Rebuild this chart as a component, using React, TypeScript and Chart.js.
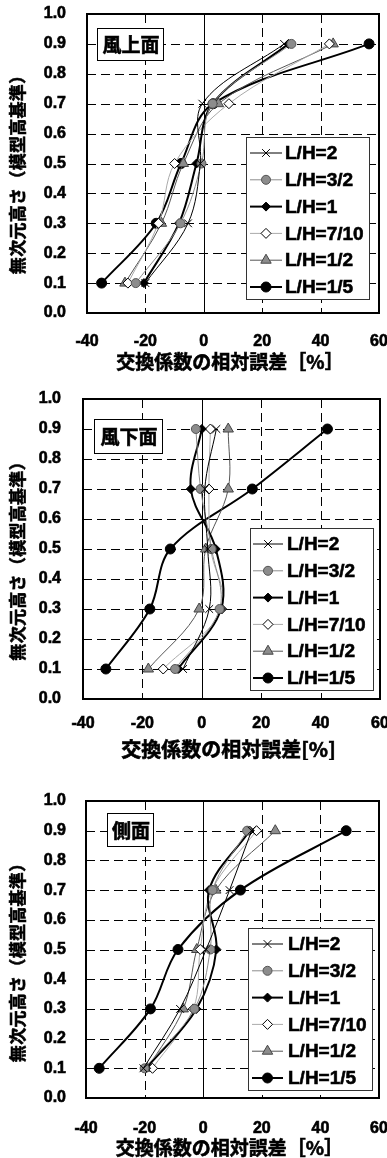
import React, { useEffect, useRef } from 'react';
import { Chart, registerables } from 'chart.js';

Chart.register(...registerables);

// ---- data ----
const heights = [0.1, 0.3, 0.5, 0.7, 0.9];
const seriesLabels = ['L/H=2', 'L/H=3/2', 'L/H=1', 'L/H=7/10', 'L/H=1/2', 'L/H=1/5'];
const xTickValues = [-40, -20, 0, 20, 40, 60];
const yTickValues = [0, 0.1, 0.2, 0.3, 0.4, 0.5, 0.6, 0.7, 0.8, 0.9, 1.0];
const panelTitles = ['風上面', '風下面', '側面'];
const yAxisTitle = '無次元高さ（模型高基準）';
const xAxisTitles = ['交換係数の相対誤差［%］', '交換係数の相対誤差[%]', '交換係数の相対誤差［%］'];

// 風上面 (windward)
const windwardLH2 = [-20, -5.4, -1.2, -0.5, 27.5];
const windwardLH3_2 = [-23.3, -8, -0.8, 3, 30];
const windwardLH1 = [-20.5, -8.5, -2.5, 3, 29];
const windwardLH7_10 = [-26, -15.5, -10, 8.6, 43];
const windwardLH1_2 = [-27, -14.5, -7, 5, 44.3];
const windwardLH1_5 = [-35, -16.3, -7.8, 3.2, 56.6];

// 風下面 (leeward)
const leewardLH2 = [-6.3, 2.5, 2, 1, 4.9];
const leewardLH3_2 = [-9, 6, 3.3, -0.4, -2];
const leewardLH1 = [-8, 6.5, 4.7, -3.7, 0];
const leewardLH7_10 = [-13, 6.7, 3, 2.4, 2.9];
const leewardLH1_2 = [-18, -0.9, 1.3, 8.9, 8.9];
const leewardLH1_5 = [-32.3, -17.5, -10.6, 17, 42.3];

// 側面 (side)
const sideLH2 = [-20.4, -7.9, 1, 9, 16.5];
const sideLH3_2 = [-20, -3, 2.4, 3.2, 15];
const sideLH1 = [-19.5, -2.3, 4.5, 2, 15.9];
const sideLH7_10 = [-17.3, -3.4, -1, 3, 18.2];
const sideLH1_2 = [-19, -6.8, -2.2, 4.3, 24.6];
const sideLH1_5 = [-35.5, -18, -8.6, 12.7, 48.8];

// ---- styles ----
type SStyle = { ps: string; r: number; bg: string; bc: string; bw: number; lc: string; lw: number };
const seriesStyles: SStyle[] = [
  { ps: 'crossRot', r: 5.5, bg: '#000', bc: '#000', bw: 1, lc: '#000', lw: 1 },
  { ps: 'circle', r: 4.5, bg: '#8c8c8c', bc: '#555', bw: 1, lc: '#8c8c8c', lw: 1 },
  { ps: 'rectRot', r: 4.5, bg: '#000', bc: '#000', bw: 1, lc: '#000', lw: 2 },
  { ps: 'rectRot', r: 5, bg: '#fff', bc: '#000', bw: 1, lc: '#aaa', lw: 1 },
  { ps: 'triangle', r: 6, bg: '#8c8c8c', bc: '#444', bw: 1, lc: '#555', lw: 1 },
  { ps: 'circle', r: 5, bg: '#000', bc: '#000', bw: 1, lc: '#000', lw: 2 },
];

const TICK_FONT = '"Liberation Sans", Arial, sans-serif';
const CJK_FONT = '"Noto Sans CJK JP", sans-serif';
const STROKE = 0.6;
const Y_TITLE_PITCH = 17.3;

type Layout = {
  height: number;
  top: number;
  padTop: number;
  padRight: number;
  yWidth: number;
  xHeight: number;
  xTickPad: number;
  yTickPad: number;
  xTitleY: number;
  xTitleSize: number;
  yTitleX: number;
  yTitleShift: number;
  titleBox: [number, number, number, number];
  legendBox: [number, number, number, number];
  legendTextX: number;
  legendLine: [number, number];
};

const layouts: Layout[] = [
  {
    height: 380, top: 0, padTop: 14, padRight: 8, yWidth: 87, xHeight: 67,
    xTickPad: 19, yTickPad: 21, xTitleY: 362, xTitleSize: 19, yTitleX: 18, yTitleShift: 7,
    titleBox: [97, 28, 163, 60], legendBox: [246, 137, 369, 299], legendTextX: 285, legendLine: [250, 282],
  },
  {
    height: 380, top: 380, padTop: 19, padRight: 7, yWidth: 83, xHeight: 61,
    xTickPad: 15, yTickPad: 22, xTitleY: 369, xTitleSize: 20, yTitleX: 18, yTitleShift: 8,
    titleBox: [94, 39, 162, 73], legendBox: [250, 148, 373, 310], legendTextX: 287, legendLine: [253, 283],
  },
  {
    height: 398, top: 760, padTop: 41, padRight: 8, yWidth: 86, xHeight: 60,
    xTickPad: 21, yTickPad: 20, xTitleY: 388, xTitleSize: 19, yTitleX: 18, yTitleShift: 9,
    titleBox: [107, 53, 153, 86], legendBox: [248, 168, 372, 330], legendTextX: 288, legendLine: [252, 283],
  },
];

function boldText(ctx: CanvasRenderingContext2D, t: string, x: number, y: number) {
  ctx.fillText(t, x, y);
  ctx.lineWidth = STROKE;
  ctx.strokeStyle = ctx.fillStyle as string;
  ctx.strokeText(t, x, y);
}

function drawMarker(ctx: CanvasRenderingContext2D, s: SStyle, x: number, y: number) {
  ctx.save();
  ctx.setLineDash([]);
  ctx.fillStyle = s.bg;
  ctx.strokeStyle = s.bc;
  ctx.lineWidth = s.bw;
  const r = s.r;
  ctx.beginPath();
  if (s.ps === 'circle') {
    ctx.arc(x, y, r, 0, Math.PI * 2);
    ctx.fill();
    ctx.stroke();
  } else if (s.ps === 'rectRot') {
    ctx.moveTo(x, y - r);
    ctx.lineTo(x + r, y);
    ctx.lineTo(x, y + r);
    ctx.lineTo(x - r, y);
    ctx.closePath();
    ctx.fill();
    ctx.stroke();
  } else if (s.ps === 'triangle') {
    ctx.moveTo(x, y - r);
    ctx.lineTo(x + r * 0.866, y + r * 0.5);
    ctx.lineTo(x - r * 0.866, y + r * 0.5);
    ctx.closePath();
    ctx.fill();
    ctx.stroke();
  } else if (s.ps === 'crossRot') {
    const d = r * Math.SQRT1_2;
    ctx.moveTo(x - d, y - d);
    ctx.lineTo(x + d, y + d);
    ctx.moveTo(x + d, y - d);
    ctx.lineTo(x - d, y + d);
    ctx.stroke();
  }
  ctx.restore();
}

function makePanelPlugin(idx: number) {
  const L = layouts[idx];
  return {
    id: 'panel' + idx,
    beforeDatasetsDraw(chart: any) {
      const { ctx, chartArea, scales } = chart;
      const { left, right, top, bottom } = chartArea;
      ctx.save();
      ctx.strokeStyle = '#000';
      ctx.lineWidth = 1;
      ctx.setLineDash([9, 5]);
      for (const v of yTickValues) {
        if (v <= 0 || v >= 1) continue;
        const py = Math.round(scales.y.getPixelForValue(v)) + 0.5;
        ctx.beginPath();
        ctx.moveTo(left, py);
        ctx.lineTo(right, py);
        ctx.stroke();
      }
      for (const v of xTickValues) {
        if (v === xTickValues[0] || v === xTickValues[xTickValues.length - 1]) continue;
        const px = Math.round(scales.x.getPixelForValue(v)) + 0.5;
        ctx.setLineDash(v === 0 ? [] : [9, 5]);
        ctx.beginPath();
        ctx.moveTo(px, top);
        ctx.lineTo(px, bottom);
        ctx.stroke();
      }
      ctx.restore();
    },
    afterDatasetsDraw(chart: any) {
      const { ctx, chartArea } = chart;
      const { left, right, top, bottom } = chartArea;
      ctx.save();
      ctx.setLineDash([]);
      // frame
      ctx.strokeStyle = '#000';
      ctx.lineWidth = 2;
      ctx.strokeRect(left, top, right - left, bottom - top);

      // title box
      const [tx0, ty0, tx1, ty1] = L.titleBox;
      ctx.fillStyle = '#fff';
      ctx.fillRect(tx0, ty0, tx1 - tx0, ty1 - ty0);
      ctx.strokeStyle = '#000';
      ctx.lineWidth = 1;
      ctx.strokeRect(tx0 + 0.5, ty0 + 0.5, tx1 - tx0, ty1 - ty0);
      ctx.fillStyle = '#000';
      ctx.font = `bold 19px ${CJK_FONT}`;
      ctx.textAlign = 'center';
      ctx.textBaseline = 'middle';
      boldText(ctx, panelTitles[idx], (tx0 + tx1) / 2 + 1, (ty0 + ty1) / 2 + 1);

      // legend box
      const [lx0, ly0, lx1, ly1] = L.legendBox;
      ctx.fillStyle = '#fff';
      ctx.fillRect(lx0, ly0, lx1 - lx0, ly1 - ly0);
      ctx.strokeStyle = '#333';
      ctx.lineWidth = 1;
      ctx.strokeRect(lx0 + 0.5, ly0 + 0.5, lx1 - lx0, ly1 - ly0);
      const step = (ly1 - ly0 - 28) / 5;
      seriesLabels.forEach((lab, i) => {
        const s = seriesStyles[i];
        const cy = ly0 + 16 + i * step;
        ctx.strokeStyle = s.lc;
        ctx.lineWidth = s.lw;
        ctx.beginPath();
        ctx.moveTo(L.legendLine[0], cy);
        ctx.lineTo(L.legendLine[1], cy);
        ctx.stroke();
        drawMarker(ctx, s, (L.legendLine[0] + L.legendLine[1]) / 2, cy);
        ctx.fillStyle = '#000';
        ctx.font = `bold 19px ${TICK_FONT}`;
        ctx.textAlign = 'left';
        ctx.textBaseline = 'middle';
        boldText(ctx, lab, L.legendTextX, cy + 1);
      });

      // axis titles
      ctx.fillStyle = '#000';
      ctx.font = `bold ${L.xTitleSize}px ${CJK_FONT}`;
      ctx.textAlign = 'center';
      ctx.textBaseline = 'middle';
      boldText(ctx, xAxisTitles[idx], (left + right) / 2 - 3, L.xTitleY);

      ctx.save();
      ctx.translate(L.yTitleX, (top + bottom) / 2 + L.yTitleShift);
      ctx.rotate(-Math.PI / 2);
      ctx.font = `bold 17px ${CJK_FONT}`;
      const chars = Array.from(yAxisTitle);
      chars.forEach((ch, i) => {
        const off = (i - (chars.length - 1) / 2) * Y_TITLE_PITCH;
        boldText(ctx, ch, off, 0);
      });
      ctx.restore();

      ctx.restore();
    },
  };
}

function makeConfig(idx: number, series: number[][]) {
  const L = layouts[idx];
  const tickFont = { family: TICK_FONT, size: 16, weight: 'bold' };
  return {
    type: 'scatter' as const,
    data: {
      datasets: series.map((vals, i) => {
        const s = seriesStyles[i];
        return {
          label: seriesLabels[i],
          data: heights.map((h, k) => ({ x: vals[k], y: h })),
          showLine: true,
          tension: 0.35,
          borderColor: s.lc,
          borderWidth: s.lw,
          pointStyle: s.ps,
          pointRadius: s.r,
          pointHoverRadius: s.r,
          pointBackgroundColor: s.bg,
          pointBorderColor: s.bc,
          pointBorderWidth: s.bw,
          fill: false,
        };
      }),
    },
    options: {
      animation: false,
      responsive: false,
      maintainAspectRatio: false,
      events: [],
      layout: { padding: { top: L.padTop, right: L.padRight, left: 0, bottom: 0 } },
      plugins: { legend: { display: false }, tooltip: { enabled: false }, title: { display: false } },
      scales: {
        x: {
          type: 'linear',
          min: xTickValues[0],
          max: xTickValues[xTickValues.length - 1],
          afterBuildTicks: (scale: any) => {
            scale.ticks = xTickValues.map((v) => ({ value: v }));
          },
          afterFit: (scale: any) => {
            scale.height = L.xHeight;
            scale.paddingLeft = 0;
            scale.paddingRight = 0;
          },
          grid: { display: false, drawTicks: false },
          border: { display: false },
          ticks: {
            padding: L.xTickPad,
            color: '#000',
            maxRotation: 0,
            autoSkip: false,
            textStrokeColor: '#000',
            textStrokeWidth: STROKE,
            font: tickFont,
            callback: (v: any) => String(v),
          },
        },
        y: {
          type: 'linear',
          min: 0,
          max: 1,
          afterBuildTicks: (scale: any) => {
            scale.ticks = yTickValues.map((v) => ({ value: v }));
          },
          afterFit: (scale: any) => {
            scale.width = L.yWidth;
            scale.paddingTop = 0;
            scale.paddingBottom = 0;
          },
          grid: { display: false, drawTicks: false },
          border: { display: false },
          ticks: {
            padding: L.yTickPad,
            color: '#000',
            autoSkip: false,
            textStrokeColor: '#000',
            textStrokeWidth: STROKE,
            font: tickFont,
            callback: (v: any) => Number(v).toFixed(1),
          },
        },
      },
    },
    plugins: [makePanelPlugin(idx)],
  };
}

const panelSeries: number[][][] = [
  [windwardLH2, windwardLH3_2, windwardLH1, windwardLH7_10, windwardLH1_2, windwardLH1_5],
  [leewardLH2, leewardLH3_2, leewardLH1, leewardLH7_10, leewardLH1_2, leewardLH1_5],
  [sideLH2, sideLH3_2, sideLH1, sideLH7_10, sideLH1_2, sideLH1_5],
];

function Panel({ idx }: { idx: number }) {
  const ref = useRef<HTMLCanvasElement | null>(null);
  const L = layouts[idx];
  useEffect(() => {
    if (!ref.current) return;
    const chart = new Chart(ref.current, makeConfig(idx, panelSeries[idx]) as any);
    return () => chart.destroy();
  }, [idx]);
  return (
    <canvas
      ref={ref}
      width={387}
      height={L.height}
      style={{ position: 'absolute', left: 0, top: L.top, width: 387, height: L.height, display: 'block' }}
    />
  );
}

export default function App() {
  return (
    <div style={{ position: 'absolute', left: 0, top: 0, width: 387, height: 1158, background: '#fff' }}>
      <Panel idx={0} />
      <Panel idx={1} />
      <Panel idx={2} />
    </div>
  );
}
